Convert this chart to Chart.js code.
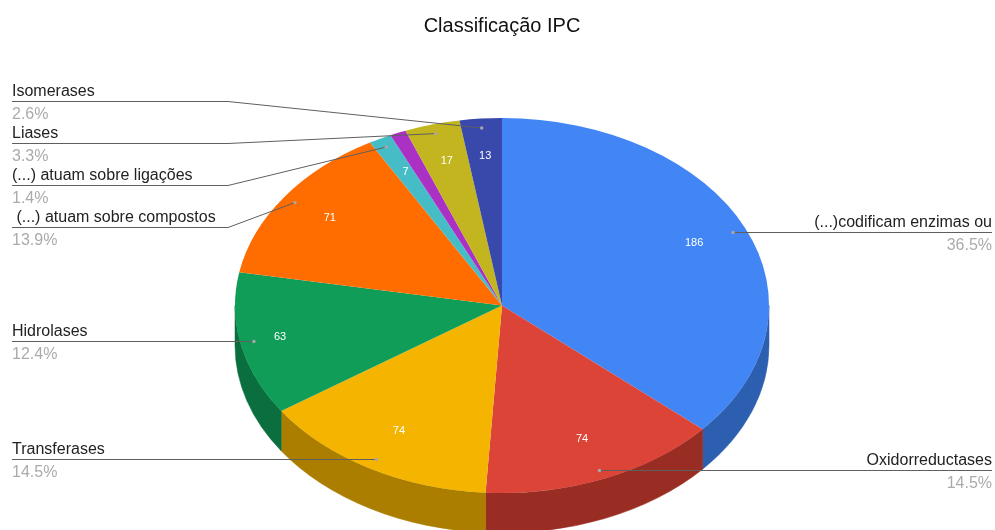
<!DOCTYPE html>
<html>
<head>
<meta charset="utf-8">
<style>
html,body{margin:0;padding:0;background:#fff;overflow:hidden}
canvas{display:block}
</style>
<script src="https://cdn.jsdelivr.net/npm/chart.js@4/dist/chart.umd.js"></script>
</head>
<body>
<canvas id="c" width="995" height="530"></canvas>
<script>
const categories = ["(...)codificam enzimas ou","Oxidorreductases","Transferases","Hidrolases"," (...) atuam sobre compostos","(...) atuam sobre ligações","(...) outras","Liases","Isomerases"];
const values = [186,74,74,63,71,7,5,17,13];
const percents = ["36.5%","14.5%","14.5%","12.4%","13.9%","1.4%","","3.3%","2.6%"];
const faceColors = ["#4285f4","#db4437","#f4b400","#0f9d58","#ff6d00","#46bdc6","#ab30c4","#c2b51f","#3949ab"];
const sideColors = ["#2d5fb0","#992d24","#ab7e00","#0a6e3e","#b34c00","#318489","#772289","#887f16","#283377"];
const titleText = "Classificação IPC";

const CY = 305.5, RADIUS = 267, TILT = 187.5 / 267, DEPTH = 40;
const DOT_R = 0.95;
const labelFractions = [0.79,0.78,0.78,0.85,0.79,0.79,0.79,0.79,0.79];
const LEFT_X = 12, RIGHT_X = 992, ELBOW_X = 228;
// y of the leader's horizontal run, per category (null = no label)
const leaderY = [232.5,470.5,459.5,341.5,227.5,185.5,null,143.5,101.5];

function project(arc, frac){
  const mid = (arc.startAngle + arc.endAngle) / 2;
  return {
    x: arc.x + RADIUS * frac * Math.cos(mid),
    y: CY + RADIUS * TILT * frac * Math.sin(mid)
  };
}

const pie3d = {
  id: 'pie3d',
  beforeDatasetsDraw(chart){
    const ctx = chart.ctx, arcs = chart.getDatasetMeta(0).data;
    const x0 = arcs[0].x, y0 = arcs[0].y;
    arcs.forEach((a, i) => {
      const s = Math.max(a.startAngle, 0), e = Math.min(a.endAngle, Math.PI);
      if (e <= s) return;
      const r = a.outerRadius;
      ctx.beginPath();
      ctx.ellipse(x0, CY, r, r * TILT, 0, s, e);
      ctx.ellipse(x0, CY + DEPTH, r, r * TILT, 0, e, s, true);
      ctx.closePath();
      ctx.fillStyle = sideColors[i];
      ctx.fill();
      ctx.strokeStyle = sideColors[i];
      ctx.lineWidth = 0.5;
      ctx.stroke();
    });
    ctx.save();
    ctx.translate(x0, CY);
    ctx.scale(1, TILT);
    ctx.translate(-x0, -y0);
  },
  afterDatasetsDraw(chart){
    chart.ctx.restore();
    const ctx = chart.ctx, arcs = chart.getDatasetMeta(0).data;
    ctx.save();
    arcs.forEach((a, i) => {
      const y = leaderY[i];
      if (y !== null){
        const dot = project(a, DOT_R);
        const onRight = dot.x > a.x;
        const edge = onRight ? RIGHT_X : LEFT_X;
        const bent = Math.abs(dot.y - y) > 3;
        const endY = bent ? dot.y : y;
        ctx.strokeStyle = "#5f5f5f";
        ctx.lineWidth = 1;
        ctx.beginPath();
        ctx.moveTo(edge, y);
        if (bent) ctx.lineTo(ELBOW_X, y);
        ctx.lineTo(dot.x, endY);
        ctx.stroke();
        ctx.fillStyle = "#a8a8a8";
        ctx.beginPath();
        ctx.arc(dot.x, endY, 1.7, 0, Math.PI * 2);
        ctx.fill();
        ctx.textAlign = onRight ? "right" : "left";
        ctx.textBaseline = "alphabetic";
        ctx.font = "16px 'Liberation Sans', Arial, sans-serif";
        ctx.fillStyle = "#222222";
        ctx.fillText(categories[i], edge, y - 6);
        ctx.fillStyle = "#ababab";
        ctx.fillText(percents[i], edge, y + 17);
      }
      if (values[i] >= 7){
        const p = project(a, labelFractions[i]);
        ctx.font = "11px 'Liberation Sans', Arial, sans-serif";
        ctx.textAlign = "center";
        ctx.textBaseline = "middle";
        ctx.fillStyle = "#ffffff";
        ctx.fillText(String(values[i]), p.x, p.y - 1.5);
      }
    });
    ctx.restore();
  }
};

new Chart(document.getElementById('c'), {
  type: 'pie',
  data: {
    labels: categories,
    datasets: [{
      data: values,
      backgroundColor: faceColors,
      borderWidth: 0,
      clip: false
    }]
  },
  options: {
    responsive: false,
    animation: false,
    radius: RADIUS,
    layout: { padding: { left: 9, right: 0, top: 0, bottom: 0 } },
    plugins: {
      legend: { display: false },
      tooltip: { enabled: false },
      title: {
        display: true,
        text: titleText,
        color: "#111111",
        font: { family: "'Liberation Sans', Arial, sans-serif", size: 20, weight: 'normal' },
        padding: { top: 14, bottom: 10 }
      }
    }
  },
  plugins: [pie3d]
});
</script>
</body>
</html>
